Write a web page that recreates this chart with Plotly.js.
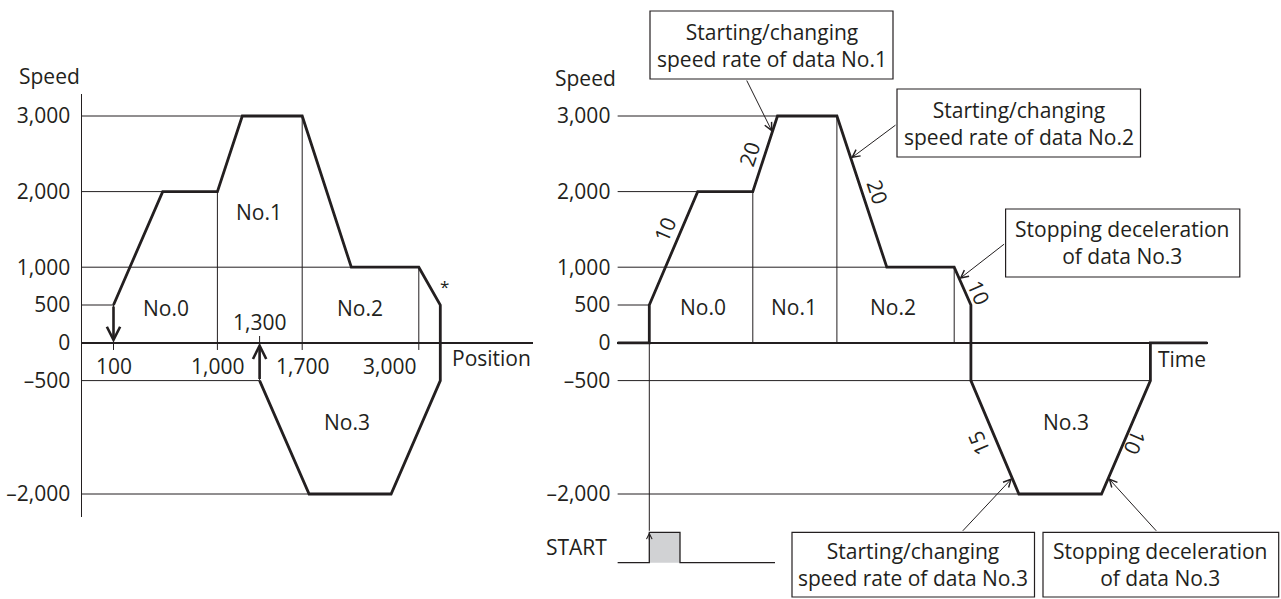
<!DOCTYPE html>
<html>
<head>
<meta charset="utf-8">
<script src="https://cdn.plot.ly/plotly-3.0.1.min.js"></script>
<style>
  html, body { margin: 0; padding: 0; background: #fff; }
  #chart { width: 1281px; height: 599px; }
</style>
</head>
<body>
<div id="chart"></div>
<script>
// Speed profile vs position (left) - schematic units along the axis
const posX     = [3.15, 8.07, 13.54, 16.03, 22.02, 26.93, 33.68, 35.83, 35.83, 30.91, 22.71, 17.76];
const posSpeed = [500, 2000, 2000, 3000, 3000, 1000, 1000, 500, -500, -2000, -2000, -500];
const posTickX    = [3.15, 13.54, 17.76, 22.02, 33.68];
const posTickText = ['100', '1,000', '1,300', '1,700', '3,000'];

// Speed profile vs time (right)
const timeX     = [0, 3.19, 3.19, 8.03, 13.54, 16.01, 21.95, 26.94, 33.68, 35.35, 35.35, 40.15, 48.41, 53.30, 53.30, 59.01];
const timeSpeed = [0, 0, 500, 2000, 2000, 3000, 3000, 1000, 1000, 500, -500, -2000, -2000, -500, 0, 0];

// START input signal
const startX     = [0, 3.19, 3.19, 6.26, 6.26, 15.76];
const startLevel = [0, 0, 1, 1, 0, 0];

const speedTicks    = [-2000, -500, 0, 500, 1000, 2000, 3000];
const speedTickText = ['\u20132,000', '\u2013500', '0', '500', '1,000', '2,000', '3,000'];

// rate labels sit beside segment i -> i+1 of the time profile
const rateSeg  = [2, 4, 6, 8, 10, 12];
const rateText = ['10', '20', '20', '10', '15', '10'];

const calloutText = [
    ['Starting/changing', 'speed rate of data No.1'],
    ['Starting/changing', 'speed rate of data No.2'],
    ['Stopping deceleration', 'of data No.3'],
    ['Starting/changing', 'speed rate of data No.3'],
    ['Stopping deceleration', 'of data No.3']
];
const calloutSeg = [4, 6, 8, 10, 12];
const calloutT   = [0.79, 0.28, 0.31, 0.86, 0.14];

// ---- geometry / style ----
const W = 1281, H = 599;
const INK = '#231f20';
const FONT = '"Open Sans", "Liberation Sans", sans-serif';
const TOP = 94, BOTTOM = 517, ZERO = 342.8, PXS = 0.0756;   // speed axes in px
const LEFT_X = [82, 533], RIGHT_X = [617.4, 1207.5];
const UNIT = 10;  // px per schematic unit
const speedRange = [-(BOTTOM - ZERO) / PXS, (ZERO - TOP) / PXS];

const px = x => x / W;
const py = y => 1 - y / H;
const toX2 = p => (p - RIGHT_X[0]) / UNIT;
const toY2 = p => (ZERO - p) / PXS;
const x2px = u => RIGHT_X[0] + u * UNIT;
const y2px = s => ZERO - s * PXS;

function guides(xs, ys, hIdx, vIdx, vEnd) {
    const gx = [], gy = [];
    hIdx.forEach(i => { gx.push(0, xs[i], null); gy.push(ys[i], ys[i], null); });
    vIdx.forEach(i => { gx.push(xs[i], xs[i], null); gy.push(ys[i], vEnd(ys[i]), null); });
    return { gx, gy };
}

const lg = guides(posX, posSpeed, [0, 2, 3, 6, 11, 10], [0, 2, 4, 6, 11], s => s > 0 ? -95 : 90);
const rg = guides(timeX, timeSpeed, [2, 4, 5, 8, 13, 11], [4, 6, 8], () => 0);

const thin = { color: INK, width: 1 };
const thick = { color: INK, width: 2.8 };

const traces = [
    { x: lg.gx, y: lg.gy, xaxis: 'x', yaxis: 'y', mode: 'lines', line: thin, hoverinfo: 'skip' },
    { x: posX, y: posSpeed, xaxis: 'x', yaxis: 'y', mode: 'lines', line: thick },
    { x: rg.gx, y: rg.gy, xaxis: 'x2', yaxis: 'y2', mode: 'lines', line: thin, hoverinfo: 'skip' },
    { x: timeX, y: timeSpeed, xaxis: 'x2', yaxis: 'y2', mode: 'lines', line: thick },
    { x: startX.slice(1, 5), y: startLevel.slice(1, 5), xaxis: 'x2', yaxis: 'y3', mode: 'none',
      fill: 'toself', fillcolor: '#d1d2d4' },
    { x: startX, y: startLevel, xaxis: 'x2', yaxis: 'y3', mode: 'lines', line: { color: INK, width: 1.3 } }
];

// ---- annotations ----
const ann = [];
function label(text, x, y, opts) {
    ann.push(Object.assign({ text, x: px(x), y: py(y), xref: 'paper', yref: 'paper',
        showarrow: false, xanchor: 'center', yanchor: 'middle' }, opts || {}));
}

// left panel
label('Speed', 49, 76);
label('Position', 491, 358);
label('No.0', 166, 308);
label('No.1', 259, 212);
label('No.2', 360, 308);
label('No.3', 347, 422);
label('*', 444, 286, { font: { size: 17 } });
posTickX.forEach((v, i) => {
    const above = posTickText[i] === '1,300';
    ann.push({ text: posTickText[i], x: v, y: 0, xref: 'x', yref: 'y', showarrow: false,
        xanchor: 'center', yanchor: 'middle',
        yshift: above ? 21 : -23, xshift: posTickText[i] === '3,000' ? -29 : 0 });
});
// arrows to/from zero speed
[0, 11].forEach(i => {
    ann.push({ x: posX[i], y: 0, xref: 'x', yref: 'y', axref: 'x', ayref: 'y',
        ax: posX[i], ay: posSpeed[i], text: '', showarrow: true,
        arrowhead: 5, arrowsize: 1, arrowwidth: 2.6, arrowcolor: INK });
});

// right panel
label('Speed', 585, 78);
label('Time', 1182, 359);
label('No.0', 703, 307);
label('No.1', 794, 307);
label('No.2', 892.5, 307);
label('No.3', 1066, 422);
label('START', 576, 547);

// rate values along slopes
const rateShift = [[-9, 18.5], [-16, 0], [16, 0], [16, -6], [-16, -6], [9, -5]];
rateSeg.forEach((i, k) => {
    const ax0 = x2px(timeX[i]), ay0 = y2px(timeSpeed[i]);
    const ax1 = x2px(timeX[i + 1]), ay1 = y2px(timeSpeed[i + 1]);
    let ang = Math.atan2(ay1 - ay0, ax1 - ax0) * 180 / Math.PI;
    if (k === 4) ang -= 180;
    if (k === 5) ang += 180;
    ann.push({ text: rateText[k], x: (timeX[i] + timeX[i + 1]) / 2, y: (timeSpeed[i] + timeSpeed[i + 1]) / 2,
        xref: 'x2', yref: 'y2', showarrow: false, textangle: ang,
        xshift: rateShift[k][0], yshift: rateShift[k][1] });
});

// START trigger line
ann.push({ x: timeX[1], y: 0, xref: 'x2', yref: 'y2', ax: 0, ay: 532.3 - ZERO, text: '',
    showarrow: true, arrowhead: 0, arrowwidth: 1, arrowcolor: INK });
ann.push({ x: startX[2], y: startLevel[2], xref: 'x2', yref: 'y3', ax: 0, ay: 9, text: '',
    showarrow: true, arrowhead: 5, arrowsize: 1.1, arrowwidth: 1, arrowcolor: INK });

// callout boxes
const boxes = [
    { x0: 650, x1: 893, y0: 11, y1: 79, tail: [746, 79] },
    { x0: 897, x1: 1140.5, y0: 89, y1: 157, tail: [897, 124] },
    { x0: 1005.6, x1: 1239.8, y0: 209, y1: 277, tail: [1005.6, 243] },
    { x0: 792, x1: 1034.5, y0: 532.3, y1: 597, tail: [961.4, 532.3] },
    { x0: 1043, x1: 1278.7, y0: 532.3, y1: 597, tail: [1157.6, 532.3] }
];
const shapes = [];
boxes.forEach((b, k) => {
    shapes.push({ type: 'rect', xref: 'paper', yref: 'paper', x0: px(b.x0), x1: px(b.x1),
        y0: py(b.y0), y1: py(b.y1), line: { color: INK, width: 1.2 }, fillcolor: '#fff' });
    label(calloutText[k].join('<br>'), (b.x0 + b.x1) / 2, (b.y0 + b.y1) / 2, { font: { size: 21 } });
    const i = calloutSeg[k], t = calloutT[k];
    const hx = timeX[i] + (timeX[i + 1] - timeX[i]) * t;
    const hy = timeSpeed[i] + (timeSpeed[i + 1] - timeSpeed[i]) * t;
    ann.push({ x: hx, y: hy, xref: 'x2', yref: 'y2', axref: 'x2', ayref: 'y2',
        ax: toX2(b.tail[0]), ay: toY2(b.tail[1]), text: '', showarrow: true,
        arrowhead: 5, arrowsize: 1.5, arrowwidth: 1, arrowcolor: INK });
});

const hideX = { showline: false, showgrid: false, zeroline: false, showticklabels: false, ticks: '' };
const speedAxis = {
    domain: [py(BOTTOM), py(TOP)], range: speedRange, showgrid: false,
    zeroline: true, zerolinecolor: INK, zerolinewidth: 1.5,
    tickmode: 'array', tickvals: speedTicks, ticktext: speedTickText, ticks: '',
    ticklabelstandoff: 6, tickfont: { size: 21 }
};

const layout = {
    width: W, height: H,
    margin: { l: 0, r: 0, t: 0, b: 0 },
    paper_bgcolor: '#fff', plot_bgcolor: 'rgba(0,0,0,0)',
    showlegend: false,
    font: { family: FONT, size: 21, color: INK },
    xaxis: Object.assign({ domain: [px(LEFT_X[0]), px(LEFT_X[1])],
        range: [0, (LEFT_X[1] - LEFT_X[0]) / UNIT], anchor: 'y' }, hideX),
    yaxis: Object.assign({ anchor: 'x', showline: true, linecolor: INK, linewidth: 1.5 }, speedAxis),
    xaxis2: Object.assign({ domain: [px(RIGHT_X[0]), px(RIGHT_X[1])],
        range: [0, (RIGHT_X[1] - RIGHT_X[0]) / UNIT], anchor: 'y2' }, hideX),
    yaxis2: Object.assign({ anchor: 'x2', showline: false }, speedAxis),
    yaxis3: { domain: [py(575), py(520)], range: [-0.405, 1.405], anchor: 'x2', visible: false },
    yaxis4: { domain: [py(ZERO), py(TOP)], range: [0, 1], anchor: 'x2', showline: true,
        linecolor: INK, linewidth: 1.5, showgrid: false, zeroline: false, showticklabels: false, ticks: '' },
    annotations: ann,
    shapes: shapes
};

Plotly.newPlot('chart', traces, layout, { staticPlot: true, displayModeBar: false });
</script>
</body>
</html>
